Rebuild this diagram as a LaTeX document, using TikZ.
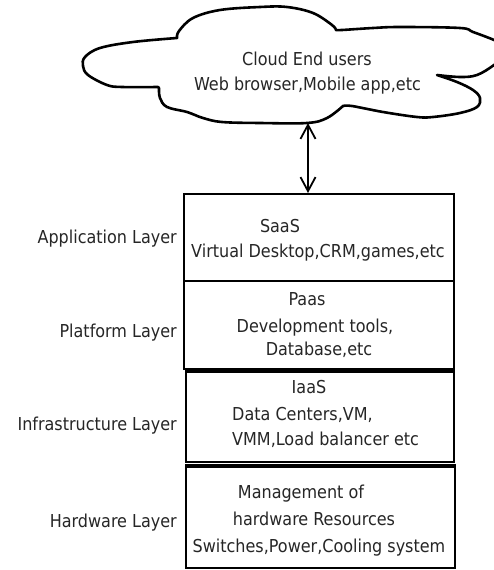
\documentclass[tikz,border=0pt]{standalone}
\usepackage{fontspec}
\setmainfont{DejaVu Sans Condensed}
\usetikzlibrary{arrows.meta}

\tikzset{
  txt/.style={inner sep=0pt, text=black!85, font=\fontsize{17.8}{21}\selectfont},
  layerbox/.style={draw, line width=2.4pt, inner sep=0pt, anchor=north west},
  cloudline/.style={line width=2.6pt, line join=round},
  link/.style={line width=1.8pt,
    {Straight Barb[length=14pt, width=15pt, line width=1.8pt]}-{Straight Barb[length=14pt, width=15pt, line width=1.8pt]}}
}

\begin{document}
\begin{tikzpicture}[x=1pt, y=-1pt]
  \fill[white] (0,0) rectangle (494,570);
  \useasboundingbox (0,0) rectangle (494,570);
  \clip (0,0) rectangle (494,570);

  % cloud outline (right lobe runs past the edge)
  \draw[cloudline]
    plot[smooth, tension=0.6] coordinates {(177,38) (133,42) (100,48) (85,57) (83,66) (88,75) (107,85) (122,87) (158,87)}
    -- plot[smooth, tension=0.6] coordinates {(159,88) (160,98) (167,107) (187,112) (203,118) (222,122) (260,123) (307,123) (327,118) (343,106)}
    -- plot[smooth, tension=0.6] coordinates {(343,106) (352,106) (383,112) (417,117) (433,117) (460,113) (477,107) (480,98) (473,90) (457,82) (437,75)}
    -- plot[smooth, tension=0.6] coordinates {(437,75) (460,77) (477,75) (494,65) (506,54) (505,46) (494,40) (473,32) (460,28) (400,27) (373,28) (342,30) (336,30)}
    -- plot[smooth, tension=0.6] coordinates {(336,30) (332,25) (313,13) (287,7) (260,7) (220,10) (193,18) (179,31) (177,38)}
    -- cycle;
  \coordinate (cloudfoot) at (308,123);

  \node[txt, anchor=base] (cloud1) at (307,65) {Cloud End users};
  \node[txt, anchor=base] (cloud2) at (307.5,90) {Web browser,Mobile app,etc};

  % service layers
  \node[layerbox, minimum width=270pt, minimum height=87pt] (saas) at (183,193) {};
  \node[layerbox, minimum width=270pt, minimum height=88pt] (paas) at (183,280) {};
  \node[layerbox, minimum width=268pt, minimum height=90pt] (iaas) at (185,371) {};
  \node[layerbox, minimum width=269pt, minimum height=101pt] (hw) at (185,466) {};
  \draw[line width=4.5pt] (iaas.north west) -- (iaas.north east);
  \draw[line width=4.5pt] (hw.north west) -- (hw.north east);

  % link between the users and the application layer
  \draw[link] (cloudfoot) -- (cloudfoot |- saas.north);

  % box contents
  \node[txt, anchor=base] (saas1) at (280,232) {SaaS};
  \node[txt, anchor=base] (saas2) at (318,257) {Virtual Desktop,CRM,games,etc};

  \node[txt, anchor=base] (paas1) at (307,305) {Paas};
  \node[txt, anchor=base] (paas2) at (315,332) {Development tools,};
  \node[txt, anchor=base] (paas3) at (319,355) {Database,etc};

  \node[txt, anchor=base] (iaas1) at (309,393) {IaaS};
  \node[txt, anchor=base west] (iaas2) at (232,420) {Data Centers,VM,};
  \node[txt, anchor=base west] (iaas3) at (232,445) {VMM,Load balancer etc};

  \node[txt, anchor=base] (hw1) at (301,498) {Management of};
  \node[txt, anchor=base] (hw2) at (314,525) {hardware Resources};
  \node[txt, anchor=base] (hw3) at (319,552) {Switches,Power,Cooling system};

  % layer names
  \node[txt, anchor=base east] (appl) at (177,243) {Application Layer};
  \node[txt, anchor=base east] (platl) at (177,337) {Platform Layer};
  \node[txt, anchor=base east] (infl) at (177,430) {Infrastructure Layer};
  \node[txt, anchor=base east] (hwl) at (177,527) {Hardware Layer};
\end{tikzpicture}
\end{document}
